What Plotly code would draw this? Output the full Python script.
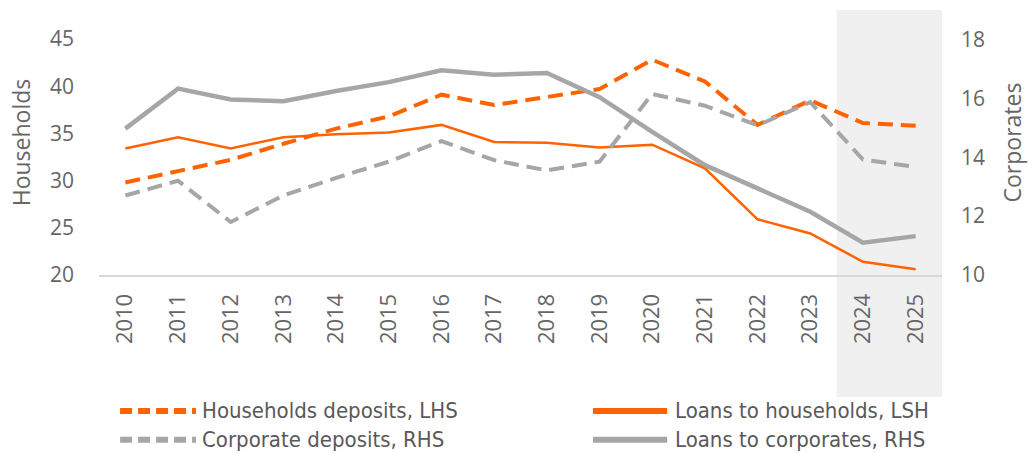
import plotly.graph_objects as go

years = [str(y) for y in range(2010, 2026)]
hh_deposits = [29.8, 31.0, 32.2, 33.9, 35.5, 36.8, 39.1, 38.0, 38.9, 39.7, 42.8, 40.5, 35.9, 38.5, 36.1, 35.8]
hh_loans = [33.4, 34.6, 33.4, 34.6, 34.9, 35.1, 35.9, 34.1, 34.0, 33.5, 33.8, 31.3, 25.9, 24.4, 21.4, 20.6]
corp_deposits = [12.7, 13.2, 11.8, 12.7, 13.3, 13.85, 14.55, 13.9, 13.55, 13.85, 16.15, 15.75, 15.08, 15.87, 13.92, 13.67]
corp_loans = [14.97, 16.33, 15.96, 15.9, 16.25, 16.55, 16.95, 16.8, 16.86, 16.04, 14.86, 13.73, 12.94, 12.15, 11.1, 11.32]

names = ["Households deposits, LHS", "Loans to households, LSH",
         "Corporate deposits, RHS", "Loans to corporates, RHS"]

ORANGE = "#FF6200"
GREY = "#A6A6A6"
TICK = "#666666"
FONT = "Open Sans, Noto Sans, sans-serif"
NARROW = "Liberation Sans Narrow, DejaVu Sans Condensed, Roboto Condensed, Arial Narrow, sans-serif"

styles = [
    dict(color=ORANGE, width=4, dash="15px,8px"),
    dict(color=ORANGE, width=2.5, dash="solid"),
    dict(color=GREY, width=4, dash="15px,8px"),
    dict(color=GREY, width=4.5, dash="solid"),
]
series = [hh_deposits, hh_loans, corp_deposits, corp_loans]
axes = ["y", "y", "y2", "y2"]

fig = go.Figure()
for name, vals, st, ax in zip(names, series, styles, axes):
    fig.add_trace(go.Scatter(x=years, y=vals, name=name, mode="lines",
                             line=st, yaxis=ax, showlegend=False))

shapes = [dict(type="rect", xref="x", yref="paper", x0=13.5, x1=15.5,
               y0=-0.46, y1=1.0, fillcolor="#F0F0F0", line=dict(width=0),
               layer="below")]

# manual legend (2 x 2)
leg_pos = [(0.025, 0.115, 0.120, -0.513), (0.586, 0.674, 0.681, -0.513),
           (0.025, 0.115, 0.120, -0.622), (0.586, 0.674, 0.681, -0.622)]
annotations = []
for name, st, (lx0, lx1, tx, ly) in zip(names, styles, leg_pos):
    shapes.append(dict(type="line", xref="paper", yref="paper", x0=lx0, x1=lx1,
                       y0=ly, y1=ly,
                       line=dict(color=st["color"], width=6,
                                 dash="12px,6px" if st["dash"] != "solid" else "solid")))
    annotations.append(dict(text=name, xref="paper", yref="paper", x=tx, y=ly,
                            xanchor="left", yanchor="middle", showarrow=False,
                            font=dict(family=NARROW, size=22, color="#595959")))

fig.update_layout(
    width=1033, height=453,
    margin=dict(l=99, r=91, t=10, b=178),
    paper_bgcolor="white", plot_bgcolor="rgba(0,0,0,0)",
    font=dict(family=FONT, color=TICK, size=20),
    shapes=shapes, annotations=annotations,
    xaxis=dict(type="category", range=[-0.5, 15.5], showgrid=False,
               showline=True, linecolor="#D9D9D9", linewidth=2,
               tickangle=-90, tickfont=dict(size=22, color=TICK),
               ticks="", ticklabelstandoff=8, zeroline=False),
    yaxis=dict(range=[20, 48.07], tickvals=[20, 25, 30, 35, 40, 45],
               showgrid=False, zeroline=False, showline=False,
               tickfont=dict(size=21, color=TICK), ticklabelstandoff=24,
               title=dict(text="Households", font=dict(size=23, color=TICK), standoff=12)),
    yaxis2=dict(range=[10, 19], tickvals=[10, 12, 14, 16, 18], overlaying="y",
                side="right", showgrid=False, zeroline=False, showline=False,
                tickfont=dict(size=21, color=TICK), ticklabelstandoff=18,
                title=dict(text="Corporates", font=dict(size=23, color=TICK), standoff=20)),
)

fig.write_html("out.html", config={"displayModeBar": False},
               post_script="document.body.style.margin='0';document.body.style.padding='0';")
